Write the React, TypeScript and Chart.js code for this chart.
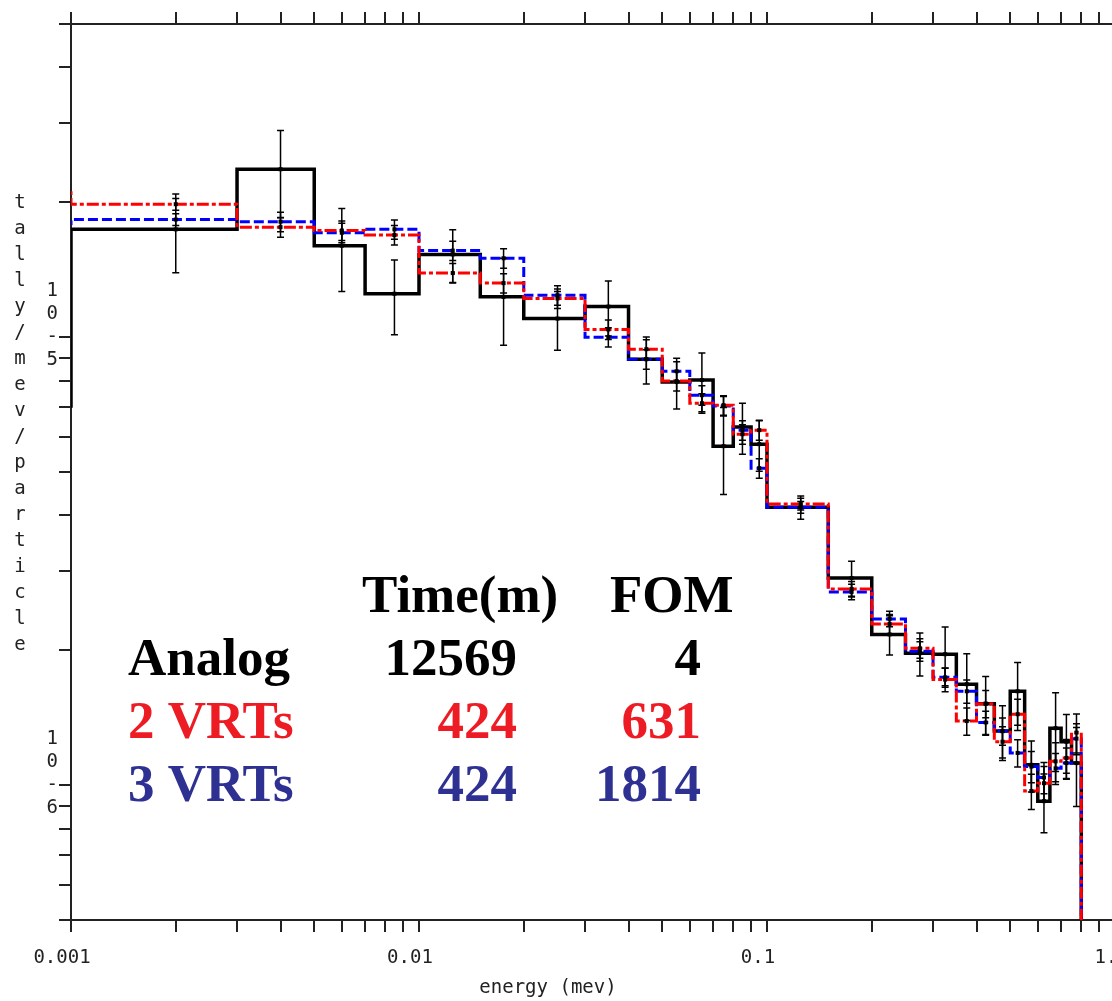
import React, { useEffect, useRef } from 'react';
import { Chart, registerables } from 'chart.js';

Chart.register(...registerables);

// ---- data -------------------------------------------------------------
// energy bin edges (MeV); first bin lies below the plotted range
const binEdges = [
  0.0005, 0.001, 0.003, 0.005, 0.007, 0.01, 0.015, 0.02, 0.03, 0.04, 0.05,
  0.06, 0.07, 0.08, 0.09, 0.1, 0.15, 0.2, 0.25, 0.3, 0.35, 0.4, 0.45, 0.5,
  0.55, 0.6, 0.65, 0.7, 0.75, 0.8,
];

// tally/mev/particle per bin
const analogValues = [
  7.02e-6, 1.74e-5, 2.37e-5, 1.6e-5, 1.25e-5, 1.53e-5, 1.23e-5, 1.1e-5, 1.17e-5,
  8.93e-6, 7.94e-6, 8.02e-6, 5.71e-6, 6.3e-6, 5.77e-6, 4.17e-6, 2.9e-6, 2.17e-6,
  1.97e-6, 1.96e-6, 1.68e-6, 1.52e-6, 1.32e-6, 1.62e-6, 1.11e-6, 9.21e-7,
  1.34e-6, 1.25e-6, 1.12e-6,
];
const vrt2Values = [
  2.1e-5, 1.98e-5, 1.76e-5, 1.73e-5, 1.69e-5, 1.39e-5, 1.32e-5, 1.22e-5, 1.04e-5,
  9.4e-6, 7.98e-6, 7.12e-6, 7.05e-6, 6.07e-6, 6.2e-6, 4.24e-6, 2.74e-6, 2.29e-6,
  2.02e-6, 1.72e-6, 1.39e-6, 1.52e-6, 1.25e-6, 1.44e-6, 9.7e-7, 1.01e-6,
  1.13e-6, 1.15e-6, 1.31e-6,
];
const vrt3Values = [
  1.79e-5, 1.83e-5, 1.81e-5, 1.71e-5, 1.74e-5, 1.56e-5, 1.5e-5, 1.24e-5, 1.0e-5,
  8.93e-6, 8.39e-6, 7.42e-6, 7.02e-6, 6.2e-6, 5.1e-6, 4.17e-6, 2.7e-6, 2.35e-6,
  1.99e-6, 1.74e-6, 1.62e-6, 1.38e-6, 1.32e-6, 1.18e-6, 1.1e-6, 1.04e-6,
  1.09e-6, 1.12e-6, 1.27e-6,
];

// relative errors per bin
const analogErrors = [
  0, 0.2, 0.22, 0.21, 0.19, 0.135, 0.22, 0.15, 0.14, 0.12, 0.13, 0.15, 0.22,
  0.13, 0.13, 0.06, 0.09, 0.1, 0.11, 0.15, 0.17, 0.15, 0.14, 0.16, 0.13, 0.15,
  0.2, 0.15, 0.2,
];
const vrt2Errors = [
  0, 0.03, 0.05, 0.05, 0.05, 0.05, 0.05, 0.05, 0.05, 0.05, 0.05, 0.05, 0.05,
  0.05, 0.05, 0.03, 0.04, 0.05, 0.05, 0.06, 0.07, 0.07, 0.08, 0.08, 0.09, 0.09,
  0.1, 0.1, 0.1,
];
const vrt3Errors = [
  0, 0.03, 0.05, 0.05, 0.05, 0.05, 0.05, 0.05, 0.05, 0.05, 0.05, 0.05, 0.05,
  0.05, 0.05, 0.03, 0.04, 0.04, 0.05, 0.05, 0.06, 0.06, 0.07, 0.07, 0.08, 0.08,
  0.08, 0.08, 0.08,
];

// axes
const xMin = 0.001;
const xMax = 1;
const yMin = 5e-7;
const yMax = 5e-5;
const xTickValues = [0.001, 0.01, 0.1, 1];
const xTickLabels = ['0.001', '0.01', '0.1', '1.'];
const yTickValues = [1e-6, 1e-5];
const yTickLabels = [
  ['1', '0', '-', '6', ''],
  ['1', '0', '-', '5', ''],
];
const xAxisTitle = 'energy (mev)';
const yAxisTitle = 'tally/mev/particle';

// annotation table
const tableHeaders = ['Time(m)', 'FOM'];
const runNames = ['Analog', '2 VRTs', '3 VRTs'];
const runTimes = ['12569', '424', '424'];
const runFoms = ['4', '631', '1814'];
const runColors = ['#000000', '#ed1c24', '#2e3192'];

// ---- helpers ----------------------------------------------------------
const stepPoints = (values: number[]) => {
  const pts = values.map((v, i) => ({ x: binEdges[i], y: v }));
  // histogram closes down to the axis floor after the last edge
  pts.push({ x: binEdges[binEdges.length - 1], y: yMin });
  return pts;
};

const logTicks = (min: number, max: number) => {
  const ticks: { value: number }[] = [];
  const e0 = Math.floor(Math.log10(min) + 1e-9);
  const e1 = Math.ceil(Math.log10(max) - 1e-9);
  for (let e = e0; e <= e1; e++) {
    for (let m = 1; m <= 9; m++) {
      const v = parseFloat((m * Math.pow(10, e)).toPrecision(12));
      if (v >= min * (1 - 1e-9) && v <= max * (1 + 1e-9)) ticks.push({ value: v });
    }
  }
  return ticks;
};

const findLabel = (v: number, values: number[], labels: any[]) => {
  const idx = values.findIndex((t) => Math.abs(Math.log10(t) - Math.log10(v)) < 1e-6);
  return idx >= 0 ? labels[idx] : '';
};

const AXIS_COLOR = '#222222';
const MONO = '"DejaVu Sans Mono", "Liberation Mono", monospace';

const errorSeries = [
  { values: analogValues, errors: analogErrors },
  { values: vrt3Values, errors: vrt3Errors },
  { values: vrt2Values, errors: vrt2Errors },
];

const errorBarPlugin = {
  id: 'errorBars',
  afterDatasetsDraw(chart: any) {
    const { ctx, chartArea, scales } = chart;
    const xs = scales.x;
    const ys = scales.y;
    ctx.save();
    ctx.beginPath();
    ctx.rect(chartArea.left, chartArea.top, chartArea.right - chartArea.left, chartArea.bottom - chartArea.top);
    ctx.clip();
    ctx.strokeStyle = '#000';
    ctx.fillStyle = '#000';
    ctx.lineWidth = 1.5;
    errorSeries.forEach(({ values, errors }) => {
      values.forEach((v, i) => {
        const r = errors[i];
        if (!r) return;
        const c = (binEdges[i] + binEdges[i + 1]) / 2;
        const x = xs.getPixelForValue(c);
        const yT = ys.getPixelForValue(v * (1 + r));
        const yB = ys.getPixelForValue(v * (1 - r));
        const y = ys.getPixelForValue(v);
        ctx.beginPath();
        ctx.moveTo(x, yT);
        ctx.lineTo(x, yB);
        ctx.moveTo(x - 3.5, yT);
        ctx.lineTo(x + 3.5, yT);
        ctx.moveTo(x - 3.5, yB);
        ctx.lineTo(x + 3.5, yB);
        ctx.stroke();
        ctx.fillRect(x - 2, y - 2, 4, 4);
      });
    });
    ctx.restore();
  },
};

const textPlugin = {
  id: 'texts',
  afterDraw(chart: any) {
    const { ctx } = chart;
    ctx.save();
    // y-axis title, characters stacked vertically
    ctx.font = `19px ${MONO}`;
    ctx.fillStyle = AXIS_COLOR;
    ctx.textAlign = 'center';
    ctx.textBaseline = 'middle';
    yAxisTitle.split('').forEach((ch, i) => {
      ctx.fillText(ch, 20, 203 + i * 26);
    });
    // x-axis title
    ctx.fillText(xAxisTitle, 548, 988);

    // table
    ctx.font = 'bold 53px "Liberation Serif", "Times New Roman", serif';
    ctx.textBaseline = 'alphabetic';
    ctx.fillStyle = '#000';
    ctx.textAlign = 'left';
    ctx.fillText(tableHeaders[0], 362, 612);
    ctx.fillText(tableHeaders[1], 610, 612);
    const baselines = [675, 738, 801];
    runNames.forEach((name, i) => {
      ctx.fillStyle = runColors[i];
      ctx.textAlign = 'left';
      ctx.fillText(name, 128, baselines[i]);
      ctx.textAlign = 'right';
      ctx.fillText(runTimes[i], 517, baselines[i]);
      ctx.fillText(runFoms[i], 701, baselines[i]);
    });
    ctx.restore();
  },
};

export default function App() {
  const canvasRef = useRef<HTMLCanvasElement | null>(null);

  useEffect(() => {
    const canvas = canvasRef.current;
    if (!canvas) return;

    const gridOpts = {
      drawOnChartArea: false,
      drawTicks: true,
      tickLength: 12,
      color: AXIS_COLOR,
      lineWidth: 2,
    };
    const borderOpts = { display: true, color: AXIS_COLOR, width: 2 };

    const chart = new Chart(canvas, {
      type: 'line',
      data: {
        datasets: [
          {
            label: '2 VRTs',
            data: stepPoints(vrt2Values),
            borderColor: '#ff0000',
            borderWidth: 3,
            borderDash: [12, 3, 4, 3],
            stepped: 'before',
            pointRadius: 0,
            fill: false,
            order: 0,
          },
          {
            label: '3 VRTs',
            data: stepPoints(vrt3Values),
            borderColor: '#0000ff',
            borderWidth: 3,
            borderDash: [10, 4],
            stepped: 'before',
            pointRadius: 0,
            fill: false,
            order: 1,
          },
          {
            label: 'Analog',
            data: stepPoints(analogValues),
            borderColor: '#000000',
            borderWidth: 3.5,
            stepped: 'before',
            pointRadius: 0,
            fill: false,
            order: 2,
          },
        ],
      },
      options: {
        responsive: false,
        animation: false,
        devicePixelRatio: 1,
        layout: { padding: 0, autoPadding: false },
        plugins: {
          legend: { display: false },
          tooltip: { enabled: false },
        },
        scales: {
          x: {
            type: 'logarithmic',
            position: 'bottom',
            min: xMin,
            max: xMax,
            afterBuildTicks: (s: any) => {
              s.ticks = logTicks(xMin, xMax);
            },
            afterFit: (s: any) => {
              s.height = 81;
              s.paddingLeft = 0;
              s.paddingRight = 0;
            },
            grid: gridOpts,
            border: borderOpts,
            ticks: {
              autoSkip: false,
              maxRotation: 0,
              minRotation: 0,
              padding: 15,
              labelOffset: -9,
              color: AXIS_COLOR,
              font: { family: MONO, size: 19 },
              callback: (v: any) => findLabel(Number(v), xTickValues, xTickLabels),
            },
          },
          xTop: {
            type: 'logarithmic',
            position: 'top',
            min: xMin,
            max: xMax,
            afterBuildTicks: (s: any) => {
              s.ticks = logTicks(xMin, xMax);
            },
            afterFit: (s: any) => {
              s.height = 24;
              s.paddingLeft = 0;
              s.paddingRight = 0;
            },
            grid: gridOpts,
            border: borderOpts,
            ticks: { display: false, autoSkip: false },
          },
          y: {
            type: 'logarithmic',
            position: 'left',
            min: yMin,
            max: yMax,
            afterBuildTicks: (s: any) => {
              s.ticks = logTicks(yMin, yMax);
            },
            afterFit: (s: any) => {
              s.width = 71;
              s.paddingTop = 0;
              s.paddingBottom = 0;
            },
            grid: gridOpts,
            border: borderOpts,
            ticks: {
              autoSkip: false,
              crossAlign: 'center',
              padding: 1,
              color: AXIS_COLOR,
              font: { family: MONO, size: 19, lineHeight: 1.2 },
              callback: (v: any) => findLabel(Number(v), yTickValues, yTickLabels),
            },
          },
        },
      },
      plugins: [errorBarPlugin, textPlugin],
    } as any);

    return () => chart.destroy();
  }, []);

  return (
    <div
      style={{
        position: 'fixed',
        left: 0,
        top: 0,
        width: 1112,
        height: 1001,
        overflow: 'hidden',
        background: '#ffffff',
      }}
    >
      <canvas ref={canvasRef} width={1115} height={1001} style={{ display: 'block' }} />
    </div>
  );
}
